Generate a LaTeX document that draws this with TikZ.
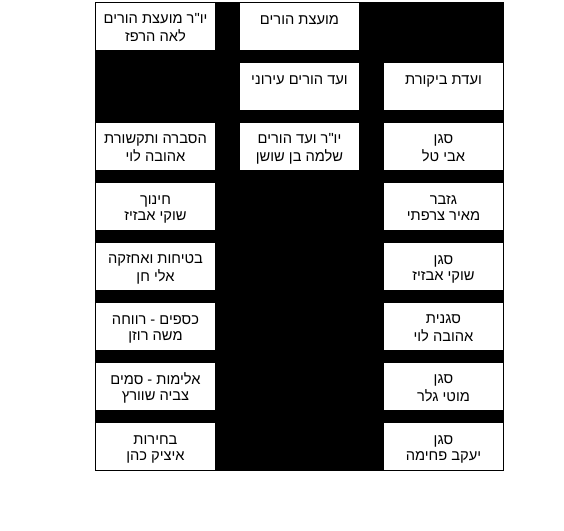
\documentclass[tikz,border=0pt]{standalone}
\usepackage{fontspec}
\newfontfamily\hebfont[Script=Hebrew]{Liberation Sans}
\TeXXeTstate=1
\newcommand{\hebA}[1]{\rule{0pt}{12.2pt}\strut\beginR#1\endR}
\newcommand{\hebB}[1]{\strut\beginR#1\endR}
\begin{document}
\begin{tikzpicture}[x=0.75pt,y=-0.75pt,
  cell/.style={fill=white, inner sep=0pt, minimum width=89.25pt, minimum height=35.25pt,
    align=center, font=\hebfont\fontsize{11}{11.8}\selectfont}]
\useasboundingbox (0,0) rectangle (564,531);
\fill[black] (95,2) rectangle (504,471);
% row 1
\node[cell] (a1) at (155.5,26.5) {\hebA{יו"ר מועצת הורים}\\\hebB{לאה הרפז}};
\node[cell] (b1) at (299.5,26.5) {\hebA{מועצת הורים}\\\strut};
% row 2
\node[cell] (b2) at (299.5,86.5) {\hebA{ועד הורים עירוני}\\\strut};
\node[cell] (c2) at (443.5,86.5) {\hebA{ועדת ביקורת}\\\strut};
% row 3
\node[cell] (a3) at (155.5,146.5) {\hebA{הסברה ותקשורת}\\\hebB{אהובה לוי}};
\node[cell] (b3) at (299.5,146.5) {\hebA{יו"ר ועד הורים}\\\hebB{שלמה בן שושן}};
\node[cell] (c3) at (443.5,146.5) {\hebA{סגן}\\\hebB{אבי טל}};
% row 4
\node[cell] (a4) at (155.5,206.5) {\hebA{חינוך}\\\hebB{שוקי אבזיז}};
\node[cell] (c4) at (443.5,206.5) {\hebA{גזבר}\\\hebB{מאיר צרפתי}};
% row 5
\node[cell] (a5) at (155.5,266.5) {\hebA{בטיחות ואחזקה}\\\hebB{אלי חן}};
\node[cell] (c5) at (443.5,266.5) {\hebA{סגן}\\\hebB{שוקי אבזיז}};
% row 6
\node[cell] (a6) at (155.5,326.5) {\hebA{כספים - רווחה}\\\hebB{משה רוזן}};
\node[cell] (c6) at (443.5,326.5) {\hebA{סגנית}\\\hebB{אהובה לוי}};
% row 7
\node[cell] (a7) at (155.5,386.5) {\hebA{אלימות - סמים}\\\hebB{צביה שוורץ}};
\node[cell] (c7) at (443.5,386.5) {\hebA{סגן}\\\hebB{מוטי גלר}};
% row 8
\node[cell] (a8) at (155.5,446.5) {\hebA{בחירות}\\\hebB{איציק כהן}};
\node[cell] (c8) at (443.5,446.5) {\hebA{סגן}\\\hebB{יעקב פחימה}};
\end{tikzpicture}
\end{document}
